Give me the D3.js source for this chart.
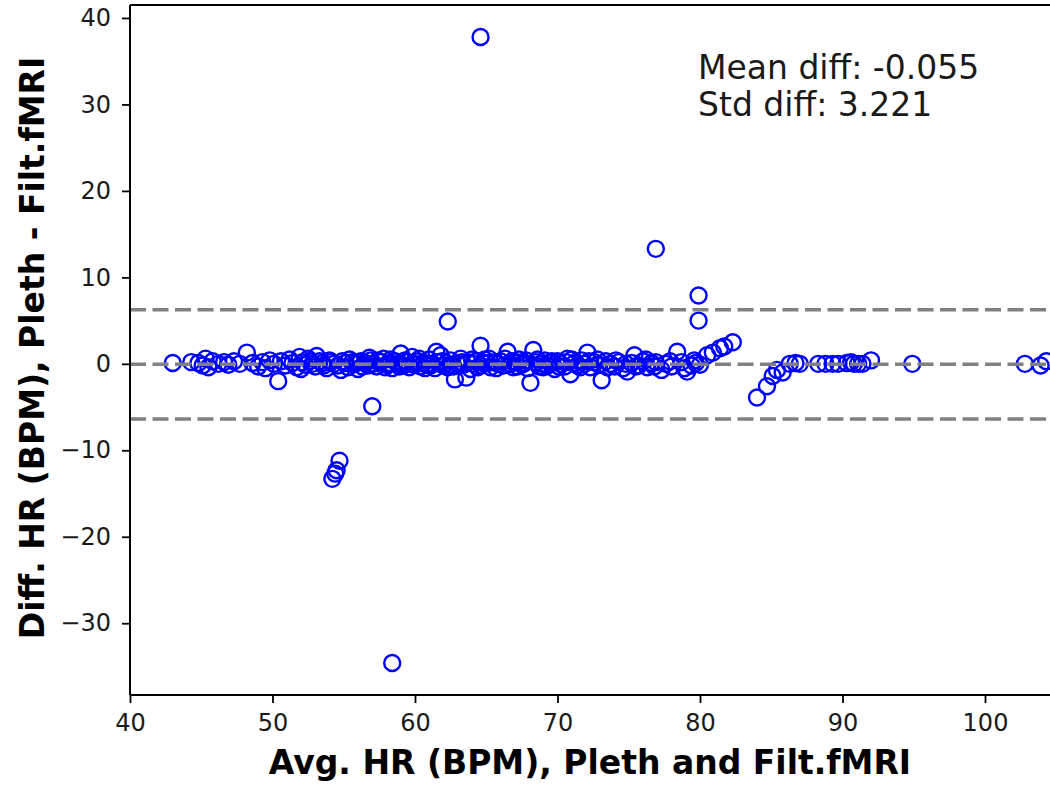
<!DOCTYPE html>
<html lang="en">

<head>
    <meta charset="UTF-8">
    <title>Bland-Altman HR</title>
    <style>
        body {
            margin: 0;
            background: #fff;
        }

        svg {
            display: block;
            font-family: "DejaVu Sans", sans-serif;
        }
    </style>
</head>

<body>
    <svg></svg>
    <script src="https://d3js.org/d3.v7.min.js"></script>
    <script>
        // average HR of the two methods (x) and their difference (y)
        var avgHR = [
            43.0, 44.3, 44.8, 45.1, 45.3, 45.5, 45.8, 46.2, 46.6, 46.9, 47.3, 47.7, 48.2, 48.6, 49.0, 49.3, 49.5, 49.8,
            50.1, 50.4, 50.6, 50.9, 51.2, 51.4, 51.7, 51.9, 52.1, 52.3, 52.5, 52.8, 53.0, 53.3, 53.5, 53.8, 54.0, 54.3, 54.6, 54.9,
            55.1, 55.3, 55.6, 55.8, 56.0, 56.2, 56.5, 56.7, 56.9, 57.1, 57.3, 57.6, 57.8, 58.0, 58.2, 58.4, 58.6, 58.8, 59.0, 59.2, 59.4, 59.6, 59.8,
            60.0, 60.2, 60.4, 60.6, 60.8, 61.0, 61.2, 61.4, 61.6, 61.8, 62.0, 62.2, 62.5, 62.7, 63.0, 63.2, 63.4, 63.7, 63.9, 64.1, 64.3, 64.6, 64.9, 65.1, 65.3, 65.6, 65.8,
            66.0, 66.2, 66.5, 66.7, 66.9, 67.1, 67.3, 67.5, 67.7, 67.9, 68.1, 68.3, 68.5, 68.7, 68.9, 69.1, 69.3, 69.5, 69.8,
            70.0, 70.2, 70.5, 70.7, 70.9, 71.2, 71.4, 71.7, 71.9, 72.1, 72.3, 72.6, 72.9, 73.1, 73.4, 73.7, 74.0, 74.3, 74.6, 74.9,
            75.2, 75.4, 75.7, 76.0, 76.3, 76.6, 76.9, 77.3, 77.6, 78.0, 78.4, 78.7, 79.1, 79.4, 79.7, 80.0,
            52.0, 52.6, 53.1, 53.6, 54.1, 54.8, 55.4, 55.9, 56.3, 56.8, 57.4, 57.9, 58.3, 58.9, 59.3, 59.9,
            60.3, 60.7, 61.1, 61.5, 61.9, 62.3, 62.8, 63.3, 63.6, 64.0, 64.4, 64.8, 65.2, 65.7,
            66.3, 66.8, 67.2, 67.8, 68.6, 69.0, 69.6, 70.1, 70.6, 71.0, 71.6, 72.2, 72.8, 73.5, 74.1, 74.8,
            75.5, 76.2, 76.8, 77.9, 78.9, 79.6,
            80.5, 80.9, 81.4, 81.7, 82.3, 84.0, 84.7, 85.1, 85.4, 85.8, 86.3, 86.7, 87.0, 88.3, 88.8, 89.3,
            89.7, 90.3, 90.6, 90.8, 91.1, 91.4, 92.0, 94.9, 102.8, 103.9, 104.3,
            64.6, 76.9, 79.9, 79.9, 62.3, 64.6, 57.0, 54.7, 54.5, 54.4, 54.2, 58.4
        ];
        var diffHR = [
            0.1, 0.2, 0.1, -0.2, 0.6, -0.4, 0.3, 0.0, 0.2, -0.1, 0.3, 0.0, 1.3, 0.1, -0.3, 0.2, -0.5, 0.4,
            0.0, -2.0, 0.3, -0.2, 0.5, 0.1, -0.4, 0.8, 0.2, -0.1, 0.6, 0.0, -0.3, 0.3, 0.1, -0.5, 0.4, 0.0, -0.2, 0.3,
            0.1, -0.4, 0.2, 0.0, -0.6, 0.3, 0.1, -0.2, 0.4, 0.0, -0.3, 0.2, 0.6, -0.1, 0.1, -0.5, 0.3, 0.0, 1.2, -0.2, 0.2, -0.4, 0.8,
            0.0, 0.3, -0.3, 0.1, -0.1, 0.5, 0.0, -0.5, 0.2, 1.0, -0.2, 0.1, 0.4, -0.3, 0.0, 0.6, -0.1, 0.2, -0.6, 0.0, 0.3, -0.2, 0.5, 0.1, -0.4, 0.2, 0.0,
            0.3, -0.2, 1.4, 0.0, -0.4, 0.2, 0.5, -0.1, 0.1, -0.5, -2.2, 1.6, 0.2, -0.3, 0.0, 0.4, -0.2, 0.1, -0.6,
            0.3, 0.0, -0.3, 0.6, -1.2, 0.1, -0.2, 0.4, 0.0, 1.3, -0.4, 0.2, -0.1, -1.9, 0.3, 0.0, -0.3, 0.2, -0.5, -0.9,
            0.1, 1.0, -0.2, 0.3, -0.4, 0.1, 0.2, -0.7, 0.0, -0.3, 1.4, 0.2, -0.9, -0.2, 0.1, -0.1,
            -0.6, 0.3, 0.9, -0.2, 0.2, -0.7, 0.5, 0.2, -0.3, 0.7, 0.4, -0.4, 0.5, -0.3, 0.4, -0.1,
            0.6, -0.5, -0.2, 1.4, 0.3, -0.4, -1.8, 0.2, -1.6, 0.5, -0.4, 0.1, 0.6, -0.5,
            0.6, 0.3, -0.3, 0.4, 0.5, -0.4, 0.3, -0.3, 0.2, 0.5, -0.4, 0.3, 0.5, -0.4, 0.4, 0.0,
            -0.3, 0.5, -0.3, 0.3, -0.5, 0.4,
            1.0, 1.3, 1.8, 2.0, 2.5, -3.9, -2.6, -1.4, -0.7, -1.0, 0.0, 0.1, 0.0, 0.0, 0.0, 0.0,
            0.0, 0.1, 0.2, 0.0, 0.0, 0.0, 0.4, 0.0, 0.0, -0.2, 0.3,
            37.8, 13.3, 7.9, 5.0, 4.9, 2.1, -4.9, -11.2, -12.3, -12.7, -13.3, -34.6
        ];
        var meanDiff = -0.055;
        var stdDiff = 3.221;
        var xTicks = [40, 50, 60, 70, 80, 90, 100];
        var yTicks = [-30, -20, -10, 0, 10, 20, 30, 40];

        var svgWidth = 1050,
            svgHeight = 785;
        var plotLeft = 130,
            plotTop = 5,
            plotBottom = 695;

        var svg = d3.select('svg')
            .attr('width', svgWidth)
            .attr('height', svgHeight);

        var x = d3.scaleLinear().domain([40, 106]).range([plotLeft, plotLeft + 66 * 14.25]);
        var y = d3.scaleLinear().domain([-38.3, 41.5]).range([plotBottom, plotTop]);

        var points = avgHR.map(function(d, i) {
            return { avg: d, diff: diffHR[i] };
        });

        // circles
        svg.append('g')
            .selectAll('circle')
            .data(points)
            .enter()
            .append('circle')
            .attr('cx', function(d) { return x(d.avg); })
            .attr('cy', function(d) { return y(d.diff); })
            .attr('r', 8)
            .attr('fill', 'none')
            .attr('stroke', '#0000ff')
            .attr('stroke-width', 2.4);

        // mean and limits of agreement
        var limits = [meanDiff + 1.96 * stdDiff, meanDiff, meanDiff - 1.96 * stdDiff];
        svg.append('g')
            .selectAll('line')
            .data(limits)
            .enter()
            .append('line')
            .attr('x1', x(40))
            .attr('x2', svgWidth + 20)
            .attr('y1', function(d) { return y(d); })
            .attr('y2', function(d) { return y(d); })
            .attr('stroke', '#808080')
            .attr('stroke-width', 3.5)
            .attr('stroke-dasharray', '16,6.5');

        // axes
        var xAxis = svg.append('g')
            .attr('transform', 'translate(0,' + plotBottom + ')')
            .call(d3.axisBottom(x).tickValues(xTicks).tickSize(8).tickPadding(11));
        var yAxis = svg.append('g')
            .attr('transform', 'translate(' + plotLeft + ',0)')
            .call(d3.axisLeft(y).tickValues(yTicks).tickSize(8).tickPadding(11)
                .tickFormat(function(d) { return d < 0 ? '\u2212' + Math.abs(d) : d; }));
        [xAxis, yAxis].forEach(function(a) {
            a.attr('font-size', 24).attr('font-family', '"DejaVu Sans", sans-serif');
            a.select('.domain').remove();
            a.selectAll('line').attr('stroke', '#000').attr('stroke-width', 1.8);
            a.selectAll('text').attr('fill', '#1a1a1a');
        });

        // spines
        svg.append('line').attr('x1', plotLeft).attr('x2', plotLeft).attr('y1', plotTop).attr('y2', plotBottom)
            .attr('stroke', '#000').attr('stroke-width', 2);
        svg.append('line').attr('x1', plotLeft).attr('x2', svgWidth + 20).attr('y1', plotBottom).attr('y2', plotBottom)
            .attr('stroke', '#000').attr('stroke-width', 2);
        svg.append('line').attr('x1', plotLeft).attr('x2', svgWidth + 20).attr('y1', plotTop).attr('y2', plotTop)
            .attr('stroke', '#000').attr('stroke-width', 2);

        // axis labels
        svg.append('text')
            .attr('x', 590)
            .attr('y', 774)
            .attr('text-anchor', 'middle')
            .attr('font-weight', 'bold')
            .attr('font-size', 33)
            .text('Avg. HR (BPM), Pleth and Filt.fMRI');
        svg.append('text')
            .attr('transform', 'translate(44,348) rotate(-90)')
            .attr('text-anchor', 'middle')
            .attr('font-weight', 'bold')
            .attr('font-size', 33)
            .text('Diff. HR (BPM), Pleth - Filt.fMRI');

        // stats box
        var stats = svg.append('text')
            .attr('font-size', 33)
            .attr('fill', '#1a1a1a');
        stats.append('tspan').attr('x', 698).attr('y', 79).text('Mean diff: ' + meanDiff.toFixed(3));
        stats.append('tspan').attr('x', 698).attr('y', 116).text('Std diff: ' + stdDiff.toFixed(3));
    </script>
</body>

</html>
